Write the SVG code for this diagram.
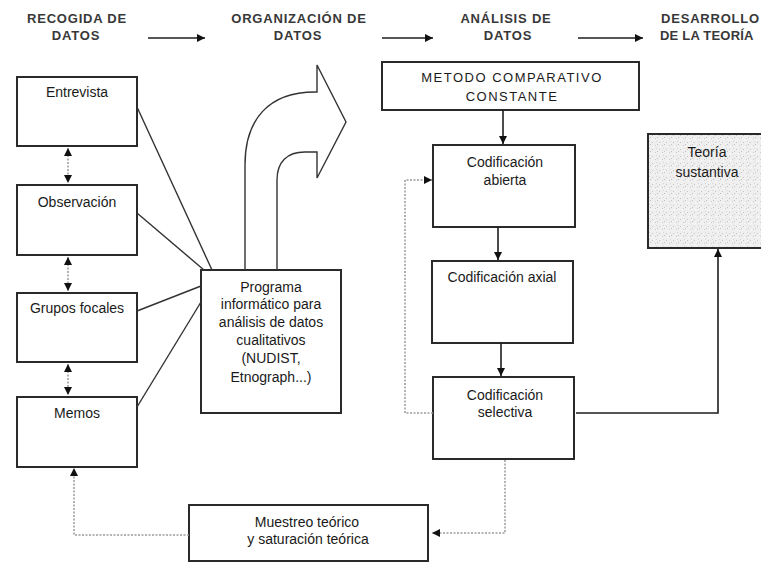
<svg xmlns="http://www.w3.org/2000/svg" width="761" height="563" viewBox="0 0 761 563">
<style>
.box{fill:#fff;stroke:#2a2a2a;stroke-width:2}
.t{font-family:"Liberation Sans",Arial,sans-serif;font-size:14px;fill:#1a1a1a;text-anchor:middle}
.h{font-family:"Liberation Sans",Arial,sans-serif;font-size:13px;font-weight:bold;fill:#383838;letter-spacing:0.8px}
.hc{text-anchor:middle}
.solid{fill:none;stroke:#1e1e1e;stroke-width:1.6}
.dot{fill:none;stroke:#9a9a9a;stroke-width:1.5;stroke-dasharray:2 1.5}
.thin{fill:none;stroke:#333;stroke-width:1.4}
</style>
<defs>
<marker id="ah" viewBox="0 0 10 10" refX="10" refY="5" markerWidth="9" markerHeight="8" markerUnits="userSpaceOnUse" orient="auto-start-reverse">
<path d="M0,0 L10,5 L0,10 z" fill="#111"/>
</marker>
<pattern id="speck" width="7" height="7" patternUnits="userSpaceOnUse">
<rect width="7" height="7" fill="#efefef"/>
<rect x="1" y="2" width="1" height="1" fill="#c4c4c4"/>
<rect x="4" y="5" width="1" height="1" fill="#cccccc"/>
<rect x="5" y="1" width="1" height="1" fill="#d6d6d6"/>
<rect x="2" y="6" width="1" height="1" fill="#fafafa"/>
<rect x="6" y="4" width="1" height="1" fill="#c0c0c0"/>
</pattern>
</defs>
<rect width="761" height="563" fill="#fff"/>

<g id="headers">
<g id="h-recogida">
<text class="h hc" x="77" y="23">RECOGIDA DE</text>
<text class="h hc" x="76" y="40">DATOS</text>
</g>
<g id="h-organizacion">
<text class="h hc" x="299" y="23">ORGANIZACIÓN DE</text>
<text class="h hc" x="298" y="40">DATOS</text>
</g>
<g id="h-analisis">
<text class="h hc" x="506" y="23">ANÁLISIS DE</text>
<text class="h hc" x="508" y="40">DATOS</text>
</g>
<g id="h-desarrollo">
<text class="h" x="661" y="23">DESARROLLO</text>
<text class="h" x="660" y="40" style="letter-spacing:0.2px">DE LA TEORÍA</text>
</g>
</g>

<g id="entrevista">
<rect class="box" x="17" y="77" width="120" height="69"/>
<text class="t" x="77" y="97">Entrevista</text>
</g>
<g id="observacion">
<rect class="box" x="17" y="185" width="120" height="70"/>
<text class="t" x="77" y="207">Observación</text>
</g>
<g id="grupos">
<rect class="box" x="17" y="293" width="120" height="69"/>
<text class="t" x="77" y="313">Grupos focales</text>
</g>
<g id="memos">
<rect class="box" x="17" y="397" width="120" height="70"/>
<text class="t" x="77" y="418">Memos</text>
</g>

<g id="programa">
<rect class="box" x="201" y="270" width="140" height="143"/>
<text class="t" x="271" y="292">Programa</text>
<text class="t" x="271" y="309">informático para</text>
<text class="t" x="271" y="327">análisis de datos</text>
<text class="t" x="271" y="345">cualitativos</text>
<text class="t" x="271" y="363">(NUDIST,</text>
<text class="t" x="271" y="382">Etnograph...)</text>
</g>

<g id="flecha-curva">
<path class="thin" fill="#fff" d="M245 270 L245 165 C245 120 268 92 315 92 L317 92 L317 65 L346 122 L317 178 L317 152 L305 152 C287 152 277 162 277 180 L277 270"/>
</g>

<g id="metodo">
<rect class="box" x="382" y="62" width="257" height="48"/>
<text class="t" x="512" y="82" style="font-size:13px;letter-spacing:1.5px">METODO COMPARATIVO</text>
<text class="t" x="512" y="101" style="font-size:13px;letter-spacing:1.5px">CONSTANTE</text>
</g>
<g id="abierta">
<rect class="box" x="433" y="145" width="142" height="82"/>
<text class="t" x="505" y="167">Codificación</text>
<text class="t" x="505" y="185">abierta</text>
</g>
<g id="axial">
<rect class="box" x="432" y="261" width="141" height="82"/>
<text class="t" x="502" y="282">Codificación axial</text>
</g>
<g id="selectiva">
<rect class="box" x="433" y="377" width="141" height="82"/>
<text class="t" x="505" y="400">Codificación</text>
<text class="t" x="505" y="417">selectiva</text>
</g>
<g id="teoria">
<rect x="648" y="134" width="125" height="114" fill="url(#speck)" stroke="#2a2a2a" stroke-width="2"/>
<text class="t" x="707" y="157">Teoría</text>
<text class="t" x="707" y="177">sustantiva</text>
</g>
<g id="muestreo">
<rect class="box" x="189" y="505" width="239" height="56"/>
<text class="t" x="307" y="527">Muestreo teórico</text>
<text class="t" x="308" y="544">y saturación teórica</text>
</g>

<g id="connectors">
<line class="solid" x1="148" y1="38" x2="205" y2="38" marker-end="url(#ah)"/>
<line class="solid" x1="382" y1="38" x2="433" y2="38" marker-end="url(#ah)"/>
<line class="solid" x1="578" y1="38" x2="643" y2="38" marker-end="url(#ah)"/>

<line class="dot" x1="68" y1="148" x2="68" y2="183" marker-start="url(#ah)" marker-end="url(#ah)"/>
<line class="dot" x1="68" y1="257" x2="68" y2="291" marker-start="url(#ah)" marker-end="url(#ah)"/>
<line class="dot" x1="68" y1="364" x2="68" y2="395" marker-start="url(#ah)" marker-end="url(#ah)"/>

<line class="thin" x1="137" y1="107" x2="212" y2="270"/>
<line class="thin" x1="137" y1="213" x2="204" y2="270"/>
<line class="thin" x1="137" y1="311" x2="201" y2="286"/>
<line class="thin" x1="137" y1="407" x2="201" y2="302"/>

<line class="solid" x1="503" y1="110" x2="503" y2="144" marker-end="url(#ah)"/>
<line class="solid" x1="498" y1="227" x2="498" y2="260" marker-end="url(#ah)"/>
<line class="solid" x1="501" y1="343" x2="501" y2="376" marker-end="url(#ah)"/>

<polyline class="dot" points="433,413 405,413 405,180 432,180" marker-end="url(#ah)"/>
<polyline class="solid" points="576,413 718,413 718,249" marker-end="url(#ah)"/>
<polyline class="dot" points="505,460 505,533 432,533" marker-end="url(#ah)"/>
<polyline class="dot" points="189,535 74,535 74,468" marker-end="url(#ah)"/>
</g>
</svg>
